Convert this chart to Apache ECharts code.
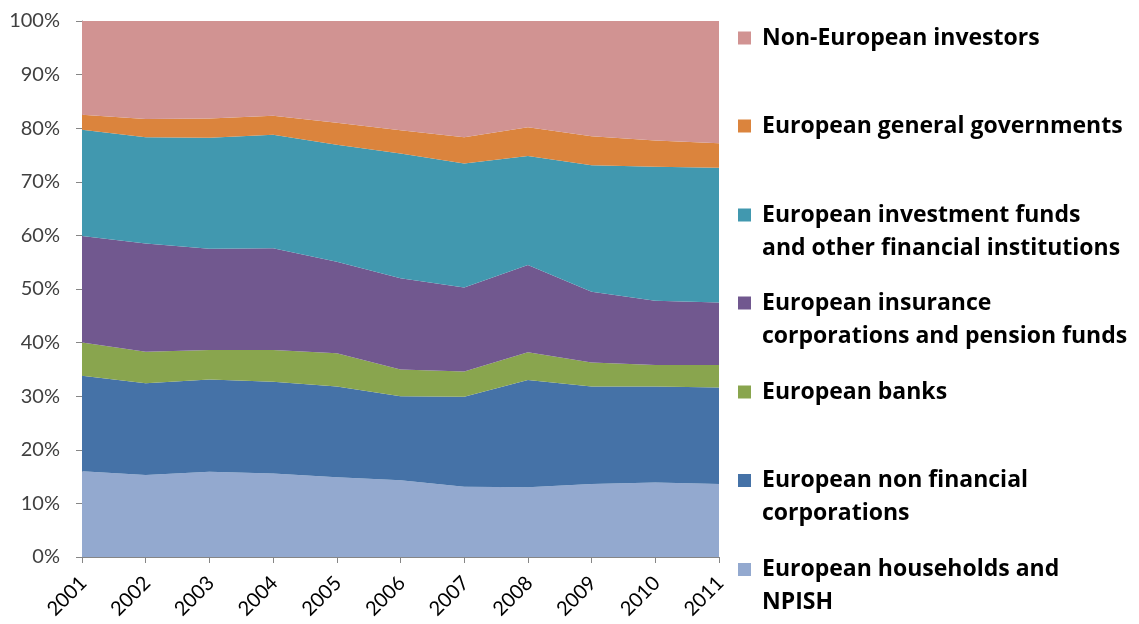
<!DOCTYPE html>
<html>
<head>
<meta charset="utf-8">
<script src="https://cdn.jsdelivr.net/npm/echarts@6/dist/echarts.min.js"></script>
<style>
html,body{margin:0;padding:0;background:#fff;}
#chart{width:1139px;height:624px;}
</style>
</head>
<body>
<div id="chart"></div>
<script>
const years = ['2001','2002','2003','2004','2005','2006','2007','2008','2009','2010','2011'];
const households   = [16.0, 15.3, 15.9, 15.6, 14.9, 14.3, 13.1, 13.0, 13.6, 13.9, 13.6];
const nonFinancial = [17.8, 17.1, 17.2, 17.1, 16.9, 15.7, 16.8, 20.0, 18.2, 17.9, 18.0];
const banks        = [ 6.2,  5.9,  5.5,  5.9,  6.2,  5.0,  4.7,  5.2,  4.5,  4.0,  4.2];
const insurance    = [19.9, 20.2, 18.9, 19.0, 17.1, 17.0, 15.7, 16.3, 13.2, 12.0, 11.7];
const investment   = [19.8, 19.8, 20.7, 21.2, 21.8, 23.3, 23.1, 20.3, 23.6, 25.0, 25.1];
const governments  = [ 2.8,  3.4,  3.6,  3.5,  4.1,  4.3,  4.9,  5.4,  5.4,  4.9,  4.6];
const nonEuropean  = [17.5, 18.3, 18.2, 17.7, 19.0, 20.4, 21.7, 19.8, 21.5, 22.3, 22.8];

const seriesNames = [
  'European households and\nNPISH',
  'European non financial\ncorporations',
  'European banks',
  'European insurance\ncorporations and pension funds',
  'European investment funds\nand other financial institutions',
  'European general governments',
  'Non-European investors'
];
const seriesData = [households, nonFinancial, banks, insurance, investment, governments, nonEuropean];
const colors = ['#93A9CF', '#4572A7', '#89A54E', '#71588F', '#4198AF', '#DB843D', '#D19392'];
// icon centre y positions of legend entries
const legendCenters = [569.5, 480.5, 392, 303, 215, 126, 38];

const series = seriesNames.map((n, i) => ({
  name: n,
  type: 'line',
  stack: 'total',
  data: seriesData[i],
  showSymbol: false,
  symbol: 'none',
  lineStyle: { width: 0 },
  areaStyle: { color: colors[i], opacity: 1 },
  itemStyle: { color: colors[i] },
  emphasis: { disabled: true },
  z: 2
}));

const legends = seriesNames.map((n, i) => {
  const twoLine = n.indexOf('\n') >= 0;
  const top = twoLine ? legendCenters[i] - 49.5 : legendCenters[i] - 16.5;
  return {
    data: [n],
    orient: 'vertical',
    left: 738,
    top: top,
    padding: 0,
    itemWidth: 13,
    itemHeight: 13,
    itemGap: 0,
    icon: 'rect',
    selectedMode: false,
    formatter: twoLine ? (name => '\n' + name) : (name => name),
    textStyle: {
      fontFamily: 'Open Sans',
      fontWeight: 'bold',
      fontSize: 23,
      color: '#000',
      lineHeight: 33,
      padding: [0, 0, 0, 6]
    }
  };
});

const chart = echarts.init(document.getElementById('chart'), null, { renderer: 'canvas' });
chart.setOption({
  animation: false,
  color: colors,
  grid: { left: 82, right: 420, top: 21, bottom: 67, containLabel: false, outerBoundsMode: 'none' },
  legend: legends,
  xAxis: {
    type: 'category',
    data: years,
    boundaryGap: false,
    axisLine: { show: true, lineStyle: { color: '#868686', width: 1 } },
    axisTick: { show: true, interval: 0, length: 6, lineStyle: { color: '#868686' } },
    axisLabel: {
      interval: 0,
      rotate: 45,
      margin: 10,
      verticalAlign: 'top',
      padding: [0, 8, 0, 0],
      fontFamily: 'Lato',
      fontSize: 20,
      color: '#000'
    },
    splitLine: { show: false }
  },
  yAxis: {
    type: 'value',
    min: 0,
    max: 100,
    interval: 10,
    axisLine: { show: true, lineStyle: { color: '#868686', width: 1 } },
    axisTick: { show: true, length: 6, lineStyle: { color: '#868686' } },
    axisLabel: {
      formatter: '{value}%',
      margin: 22,
      fontFamily: 'Lato',
      fontSize: 20,
      color: '#404040'
    },
    splitLine: { show: false }
  },
  series: series
});
</script>
</body>
</html>
